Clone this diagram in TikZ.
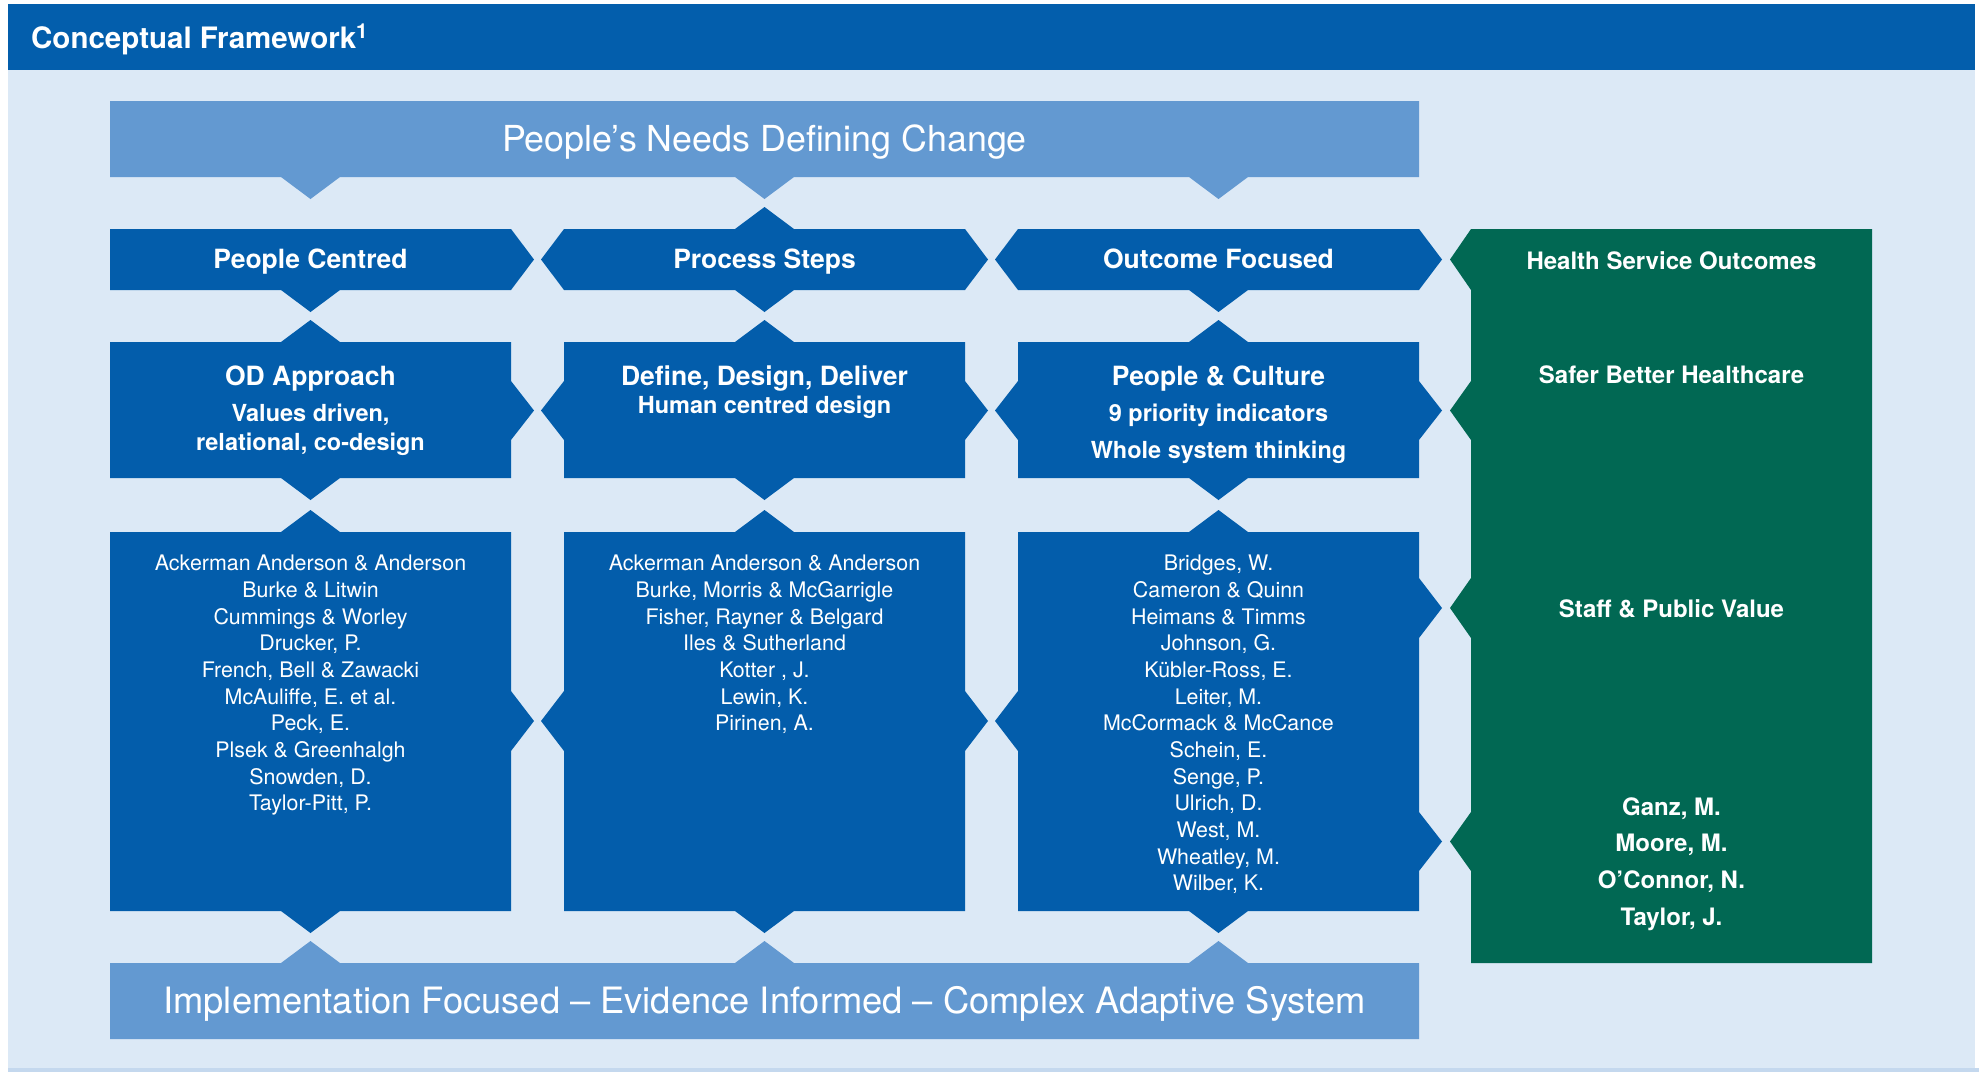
\documentclass[tikz,border=0pt]{standalone}
\usepackage{fontspec}
\setmainfont{TeX Gyre Heros}
\definecolor{hdrblue}{HTML}{035EAC}
\definecolor{boxblue}{HTML}{035DAB}
\definecolor{midblue}{HTML}{6399D1}
\definecolor{bgblue}{HTML}{DCE9F6}
\definecolor{hsgreen}{HTML}{016853}
\definecolor{lineblue}{HTML}{C4D8EE}
\newcommand\myfs[2]{\fontsize{#1}{#2}\selectfont}
\begin{document}
\begin{tikzpicture}[x=1pt,y=-1pt,
  txt/.style={text=white, inner sep=0pt, anchor=base, align=center},
  ttl/.style={txt, font=\bfseries\myfs{26.5}{30}},
  sub/.style={txt, font=\bfseries\myfs{23.5}{28}},
  grn/.style={txt, font=\bfseries\myfs{24}{28}},
  big/.style={txt, font=\myfs{36}{40}},
  auth/.style={txt, font=\myfs{21.4}{26.67}},
  bluebox/.style={fill=boxblue},
  barbox/.style={fill=midblue},
  greenbox/.style={fill=hsgreen}]
\useasboundingbox (0,0) rectangle (1979,1072);
\fill[white] (0,0) rectangle (1979,1072);
% background and header
\fill[bgblue] (8,70) rectangle (1975,1068);
\fill[lineblue] (8,1068) rectangle (1979,1072);
\fill[hdrblue] (8,4) rectangle (1975,70);
\node[txt, anchor=base west, font=\bfseries\myfs{29.5}{34}] (title) at (31,48) {Conceptual Framework\textsuperscript{1}};
% top bar
\fill[barbox] (110,101) -- (1419,101) -- (1419,177) -- (1248,177) -- (1218.5,199) -- (1189,177)
  -- (794,177) -- (764.5,199) -- (735,177) -- (340,177) -- (310.5,199) -- (281,177) -- (110,177) -- cycle;
\node[big, font=\myfs{35.8}{40}] (needs) at (764.5,151) {People’s Needs Defining Change};
% bottom bar
\fill[barbox] (110,963) -- (281,963) -- (310.5,941) -- (340,963) -- (735,963) -- (764.5,941) -- (794,963)
  -- (1189,963) -- (1218.5,941) -- (1248,963) -- (1419,963) -- (1419,1039) -- (110,1039) -- cycle;
\node[big, font=\myfs{36.3}{40}] (impl) at (764.5,1013) {Implementation Focused – Evidence Informed – Complex Adaptive System};
% row 1
\fill[bluebox] (110,229) -- (511,229) -- (534,259.5) -- (511,290) -- (340,290) -- (310.5,312) -- (281,290) -- (110,290) -- cycle;
\fill[bluebox] (564,229) -- (735,229) -- (764.5,207) -- (794,229) -- (965,229) -- (988,259.5) -- (965,290)
  -- (794,290) -- (764.5,312) -- (735,290) -- (564,290) -- (541,259.5) -- cycle;
\fill[bluebox] (1018,229) -- (1419,229) -- (1442,259.5) -- (1419,290) -- (1248,290) -- (1218.5,312) -- (1189,290)
  -- (1018,290) -- (995,259.5) -- cycle;
\node[ttl] (pc) at (310.5,268) {People Centred};
\node[ttl] (ps) at (764.5,268) {Process Steps};
\node[ttl] (of) at (1218.5,268) {Outcome Focused};
% row 2
\fill[bluebox] (110,342) -- (281,342) -- (310.5,320) -- (340,342) -- (511,342) -- (511,381) -- (534,410.5) -- (511,440)
  -- (511,478) -- (340,478) -- (310.5,500) -- (281,478) -- (110,478) -- cycle;
\fill[bluebox] (564,342) -- (735,342) -- (764.5,320) -- (794,342) -- (965,342) -- (965,381) -- (988,410.5) -- (965,440)
  -- (965,478) -- (794,478) -- (764.5,500) -- (735,478) -- (564,478) -- (564,440) -- (541,410.5) -- (564,381) -- cycle;
\fill[bluebox] (1018,342) -- (1189,342) -- (1218.5,320) -- (1248,342) -- (1419,342) -- (1419,381) -- (1442,410.5) -- (1419,440)
  -- (1419,478) -- (1248,478) -- (1218.5,500) -- (1189,478) -- (1018,478) -- (1018,440) -- (995,410.5) -- (1018,381) -- cycle;
\node[ttl] (od) at (310.5,385) {OD Approach};
\node[sub] (od1) at (310.5,421.7) {Values driven,};
\node[sub] (od2) at (310.5,450) {relational, co-design};
\node[ttl] (ddd) at (764.5,385) {Define, Design, Deliver};
\node[sub] (ddd1) at (764.5,413.3) {Human centred design};
\node[ttl] (pcu) at (1218.5,385) {People \& Culture};
\node[sub] (pcu1) at (1218.5,421.7) {9 priority indicators};
\node[sub] (pcu2) at (1218.5,458.3) {Whole system thinking};
% row 3
\fill[bluebox] (110,532) -- (281,532) -- (310.5,510) -- (340,532) -- (511,532) -- (511,691) -- (534,721) -- (511,751)
  -- (511,911) -- (340,911) -- (310.5,933) -- (281,911) -- (110,911) -- cycle;
\fill[bluebox] (564,532) -- (735,532) -- (764.5,510) -- (794,532) -- (965,532) -- (965,691) -- (988,721) -- (965,751)
  -- (965,911) -- (794,911) -- (764.5,933) -- (735,911) -- (564,911) -- (564,751) -- (541,721) -- (564,691) -- cycle;
\fill[bluebox] (1018,532) -- (1189,532) -- (1218.5,510) -- (1248,532) -- (1419,532) -- (1419,578) -- (1442,608) -- (1419,638)
  -- (1419,812) -- (1442,841.5) -- (1419,871) -- (1419,911) -- (1248,911) -- (1218.5,933) -- (1189,911) -- (1018,911)
  -- (1018,751) -- (995,721) -- (1018,691) -- cycle;
\node[auth] (au1) at (310.5,570.7) {\parbox[t]{390pt}{\centering Ackerman Anderson \& Anderson\\Burke \& Litwin\\Cummings \& Worley\\Drucker, P.\\French, Bell \& Zawacki\\McAuliffe, E. et al.\\Peck, E.\\Plsek \& Greenhalgh\\Snowden, D.\\Taylor-Pitt, P.}};
\node[auth] (au2) at (764.5,570.7) {\parbox[t]{390pt}{\centering Ackerman Anderson \& Anderson\\Burke, Morris \& McGarrigle\\Fisher, Rayner \& Belgard\\Iles \& Sutherland\\Kotter , J.\\Lewin, K.\\Pirinen, A.}};
\node[auth] (au3) at (1218.5,570.7) {\parbox[t]{390pt}{\centering Bridges, W.\\Cameron \& Quinn\\Heimans \& Timms\\Johnson, G.\\Kübler-Ross, E.\\Leiter, M.\\McCormack \& McCance\\Schein, E.\\Senge, P.\\Ulrich, D.\\West, M.\\Wheatley, M.\\Wilber, K.}};
% green column
\fill[greenbox] (1471,229) -- (1872,229) -- (1872,963) -- (1471,963) -- (1471,871) -- (1450,841.5) -- (1471,812)
  -- (1471,638) -- (1450,608) -- (1471,578) -- (1471,440) -- (1450,410.5) -- (1471,381) -- (1471,290) -- (1450,259.5) -- cycle;
\node[grn] (hso) at (1671.5,269) {Health Service Outcomes};
\node[grn] (sbh) at (1671.5,383) {Safer Better Healthcare};
\node[grn] (spv) at (1671.5,617) {Staff \& Public Value};
\node[grn, font=\bfseries\myfs{24}{36.7}] (names) at (1671.5,815) {\parbox[t]{380pt}{\centering Ganz, M.\\Moore, M.\\O’Connor, N.\\Taylor, J.}};
\end{tikzpicture}
\end{document}
